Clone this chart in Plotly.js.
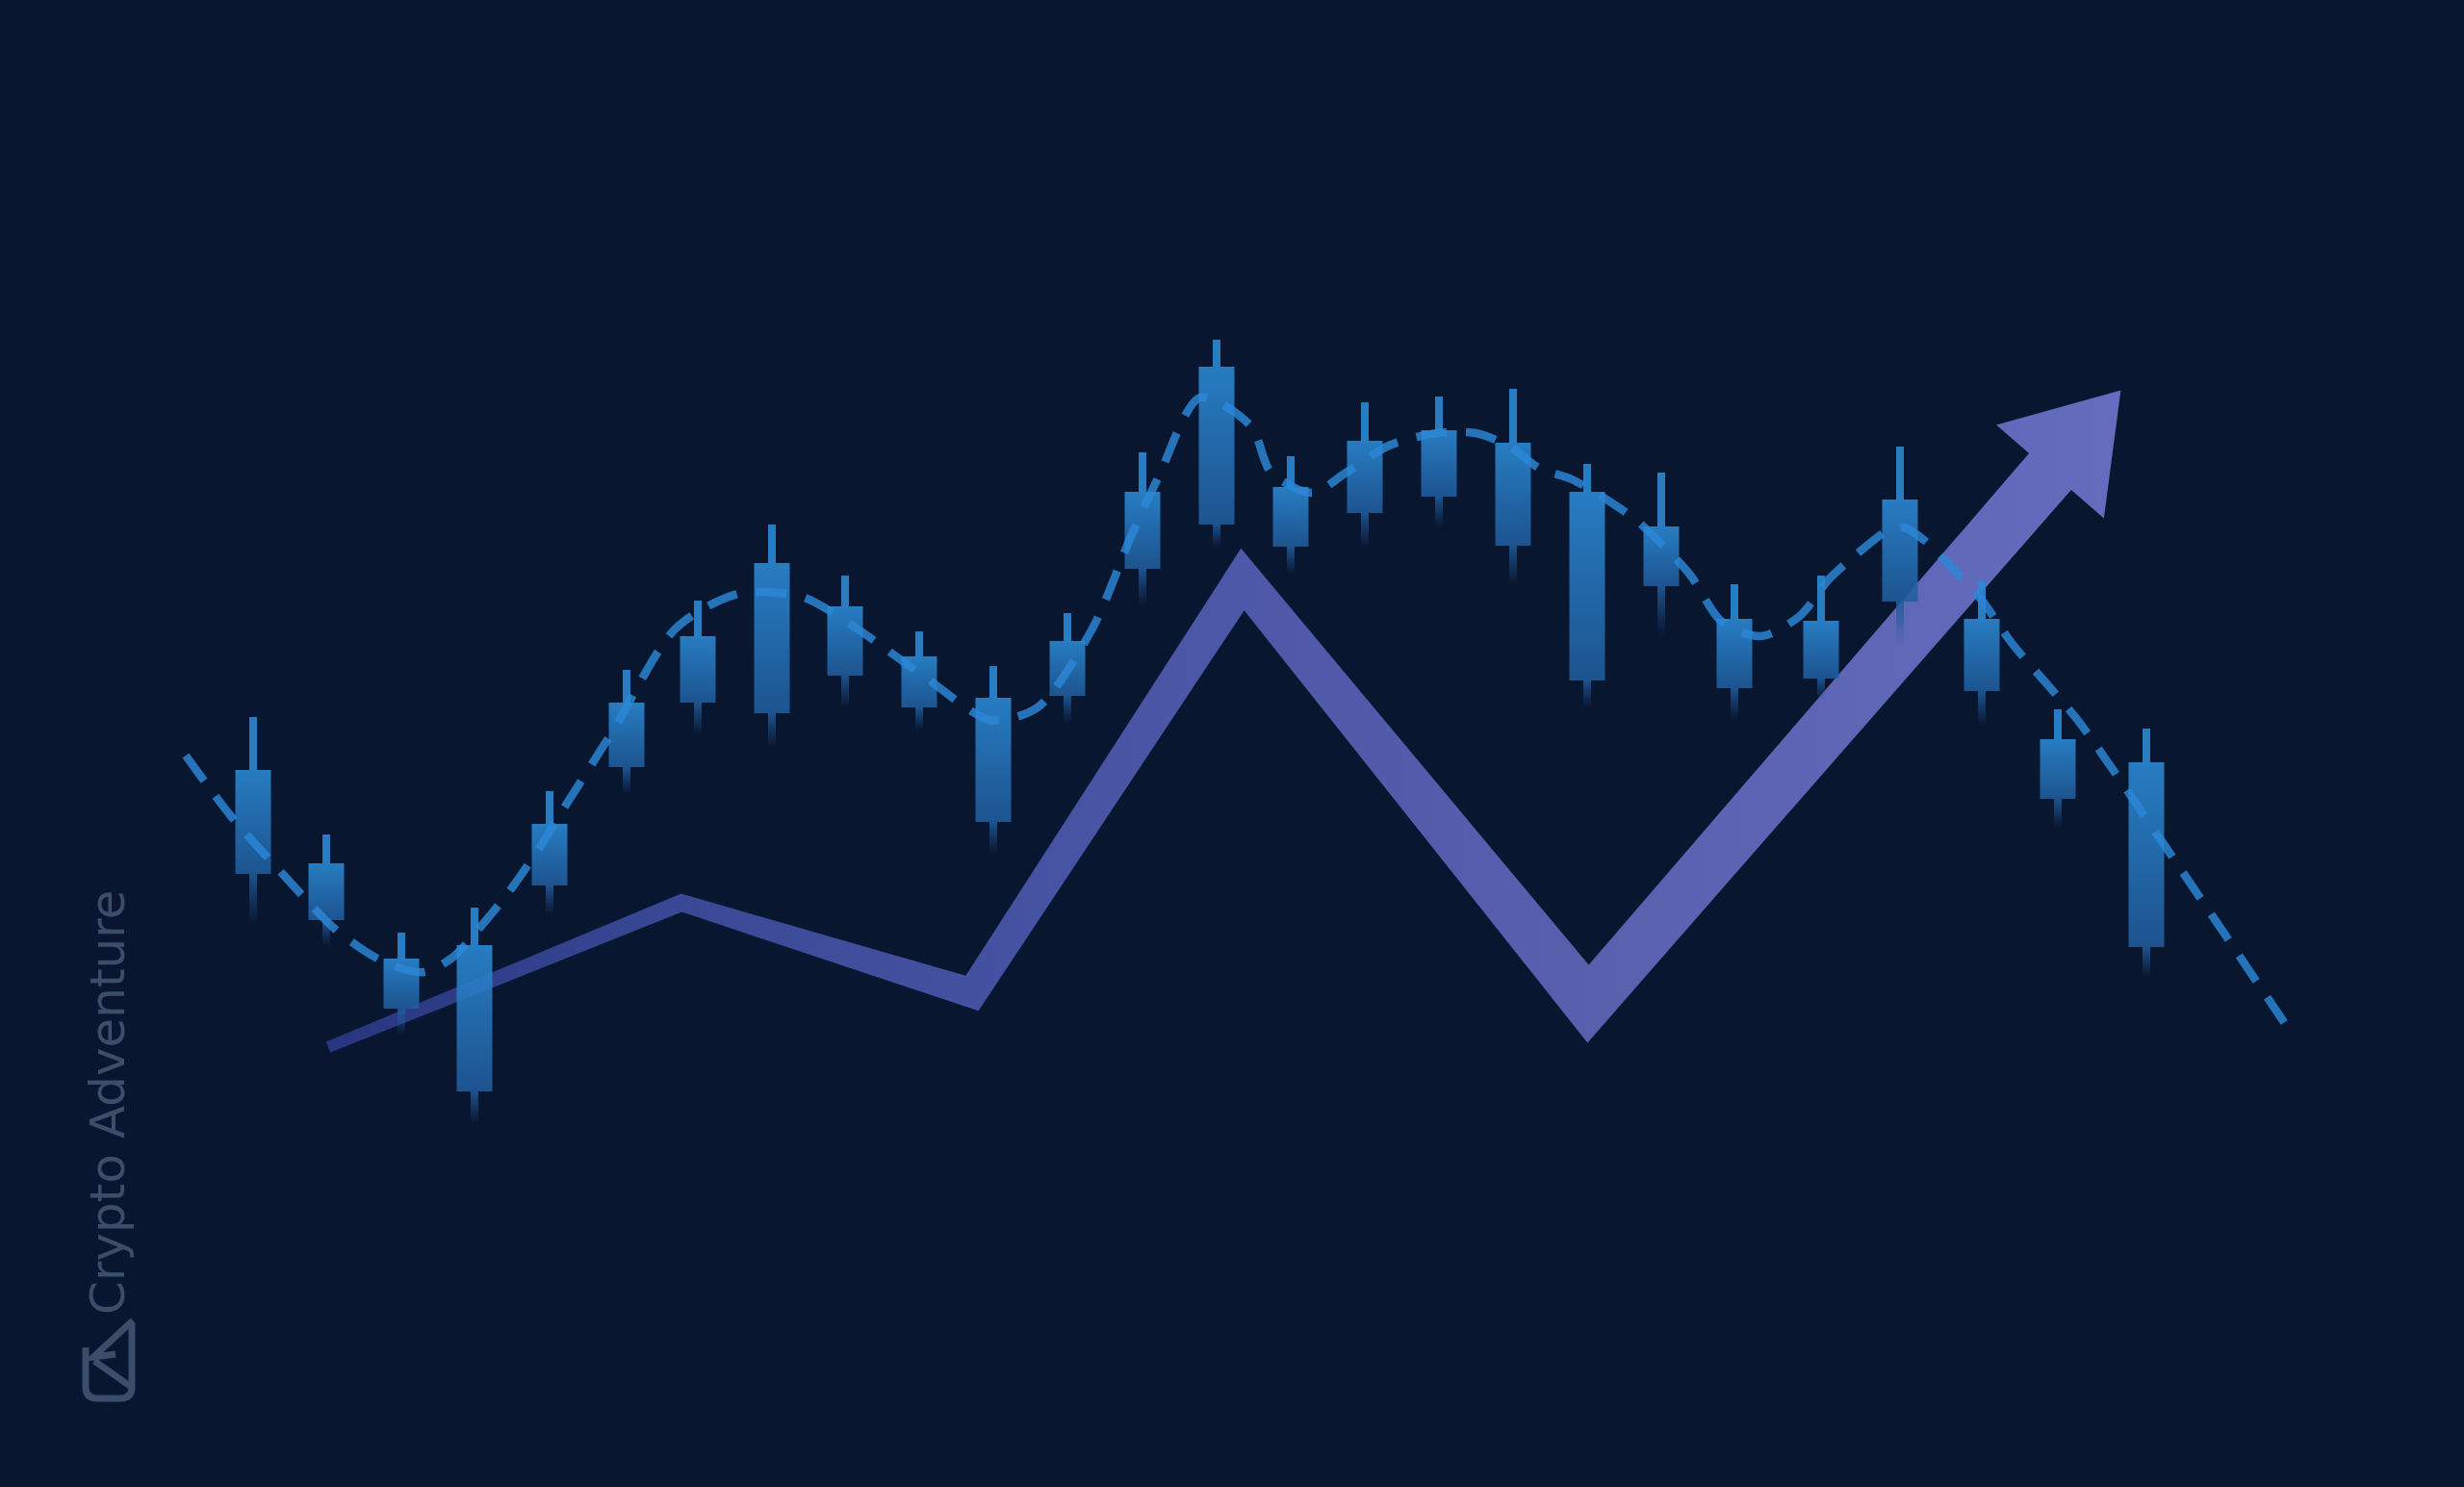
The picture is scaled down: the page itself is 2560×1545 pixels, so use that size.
<!DOCTYPE html>
<html>
<head>
<meta charset="utf-8">
<script src="https://cdn.plot.ly/plotly-3.0.1.min.js"></script>
<style>
html,body{margin:0;padding:0;background:#091630;overflow:hidden}
#chart{width:2560px;height:1545px}
</style>
</head>
<body>
<div id="chart"></div>
<script>
// ---- data (y grows downward on the level axis) ----
const candleTime       = [263, 339, 417, 493, 571, 651, 725, 802, 878, 955, 1032, 1109, 1187, 1264, 1341, 1418, 1495, 1572, 1649, 1726, 1802, 1892, 1974, 2059, 2138, 2230];
const candleWickTop    = [745, 867, 969, 943, 822, 696, 624, 545, 598, 656, 692, 637, 470, 353, 474, 418, 412, 404, 482, 491, 607, 598, 464, 604, 737, 757];
const candleBodyTop    = [800, 897, 996, 982, 856, 730, 661, 585, 630, 682, 725, 666, 511, 381, 506, 458, 447, 460, 511, 547, 643, 645, 519, 643, 768, 792];
const candleBodyBottom = [908, 956, 1048, 1134, 920, 797, 730, 741, 702, 735, 854, 723, 591, 545, 568, 533, 516, 567, 707, 609, 715, 705, 625, 718, 830, 984];
const candleWickBottom = [960, 983, 1075, 1167, 950, 825, 764, 777, 735, 759, 887, 751, 629, 568, 597, 568, 548, 607, 735, 661, 748, 727, 669, 754, 860, 1015];

const avgX = [193, 240, 300, 350, 400, 440, 470, 500, 530, 563, 580, 637, 702, 767, 833, 890, 963, 1029, 1078, 1135, 1176, 1203, 1247, 1300, 1320, 1363, 1400, 1443, 1493, 1533, 1567, 1600, 1633, 1698, 1755, 1788, 1829, 1870, 1900, 1930, 1960, 1978, 2000, 2030, 2060, 2090, 2133, 2160, 2250, 2383];
const avgY = [785, 848, 915, 967, 1000, 1010, 995, 962, 925, 877, 849, 759, 653, 617, 620, 653, 705, 748, 735, 653, 555, 497, 413, 443, 490, 512, 490, 463, 450, 450, 463, 487, 498, 539, 596, 645, 661, 640, 602, 575, 552, 548, 562, 592, 625, 668, 718, 750, 880, 1077];

const trendX     = [341, 708, 1010, 1291, 1650, 2130];
const trendY     = [1088, 938, 1032, 602, 1043, 490];
const trendWidth = [12, 18, 31, 38, 52, 58];

const watermarkText = 'Crypto Adventure';

// ---- style ----
const BG = '#091630';
const BODY_HALF = 18.5, WICK_HALF = 4;
const HEAD_LEN = 112, HEAD_HALF = 74;

const traces = [];

// trend arrow polygon (offset from its centre line)
(function(){
  const n = trendX.length;
  const L = [], R = [];
  function unit(dx, dy){ const l = Math.hypot(dx, dy); return [dx / l, dy / l]; }
  for (let i = 0; i < n; i++) {
    const hw = trendWidth[i] / 2;
    let m, len;
    if (i === 0 || i === n - 1) {
      const d = i === 0 ? unit(trendX[1] - trendX[0], trendY[1] - trendY[0])
                        : unit(trendX[n-1] - trendX[n-2], trendY[n-1] - trendY[n-2]);
      m = [-d[1], d[0]]; len = hw;
    } else {
      const d1 = unit(trendX[i] - trendX[i-1], trendY[i] - trendY[i-1]);
      const d2 = unit(trendX[i+1] - trendX[i], trendY[i+1] - trendY[i]);
      const n1 = [-d1[1], d1[0]], n2 = [-d2[1], d2[0]];
      m = unit(n1[0] + n2[0], n1[1] + n2[1]);
      len = hw / (m[0] * n1[0] + m[1] * n1[1]);
    }
    L.push([trendX[i] + m[0] * len, trendY[i] + m[1] * len]);
    R.push([trendX[i] - m[0] * len, trendY[i] - m[1] * len]);
  }
  const d = unit(trendX[n-1] - trendX[n-2], trendY[n-1] - trendY[n-2]);
  const nv = [-d[1], d[0]];
  const ex = trendX[n-1], ey = trendY[n-1];
  const head = [
    [ex + nv[0] * HEAD_HALF, ey + nv[1] * HEAD_HALF],
    [ex + d[0] * HEAD_LEN, ey + d[1] * HEAD_LEN],
    [ex - nv[0] * HEAD_HALF, ey - nv[1] * HEAD_HALF]
  ];
  const pts = L.concat(head, R.reverse());
  pts.push(pts[0]);
  traces.push({
    type: 'scatter', mode: 'lines', x: pts.map(p => p[0]), y: pts.map(p => p[1]),
    fill: 'toself', line: {width: 0, color: 'rgba(0,0,0,0)'}, hoverinfo: 'skip',
    fillgradient: {type: 'horizontal', start: trendX[0], stop: trendX[n-1] + 70,
      colorscale: [[0, '#28367f'], [0.2, '#3a4996'], [0.36, '#4351a0'], [0.51, '#4e58a8'], [0.7, '#5860ae'], [1, '#646cbe']]}
  });
})();

// candles
for (let i = 0; i < candleTime.length; i++) {
  const x = candleTime[i], wt = candleWickTop[i], bt = candleBodyTop[i], bb = candleBodyBottom[i], wb = candleWickBottom[i];
  // lower wick (fading)
  traces.push({
    type: 'scatter', mode: 'lines', hoverinfo: 'skip', opacity: 0.88,
    x: [x - WICK_HALF, x + WICK_HALF, x + WICK_HALF, x - WICK_HALF, x - WICK_HALF],
    y: [bb, bb, wb, wb, bb],
    fill: 'toself', line: {width: 0, color: 'rgba(0,0,0,0)'},
    fillgradient: {type: 'vertical', start: wb, stop: bb,
      colorscale: [[0, 'rgba(30,86,148,0)'], [1, 'rgba(31,92,156,1)']]}
  });
  // upper wick + body
  traces.push({
    type: 'scatter', mode: 'lines', hoverinfo: 'skip', opacity: 0.88,
    x: [x - WICK_HALF, x + WICK_HALF, x + WICK_HALF, x + BODY_HALF, x + BODY_HALF, x - BODY_HALF, x - BODY_HALF, x - WICK_HALF, x - WICK_HALF],
    y: [wt, wt, bt, bt, bb, bb, bt, bt, wt],
    fill: 'toself', line: {width: 0, color: 'rgba(0,0,0,0)'},
    fillgradient: {type: 'vertical', start: bb, stop: bt,
      colorscale: [[0, '#1f5c9c'], [1, '#2b8ad6']]}
  });
}

// dashed moving-average curve
traces.push({
  type: 'scatter', mode: 'lines', x: avgX, y: avgY, hoverinfo: 'skip', opacity: 0.82,
  line: {shape: 'spline', smoothing: 0.8, width: 8.5, dash: '32px,20px', color: '#2c88d8'}
});

const logoColor = '#3c4d6a';
const layout = {
  width: 2560, height: 1545,
  margin: {l: 0, r: 0, t: 0, b: 0, pad: 0},
  paper_bgcolor: BG, plot_bgcolor: BG,
  showlegend: false, hovermode: false,
  xaxis: {range: [0, 2560], visible: false, fixedrange: true},
  yaxis: {range: [1545, 0], visible: false, fixedrange: true},
  annotations: [{
    text: watermarkText, x: 112, y: 1145, xref: 'x', yref: 'y',
    xanchor: 'center', yanchor: 'middle', textangle: -90, showarrow: false,
    font: {family: 'DejaVu Sans', size: 50, color: logoColor}
  }],
  shapes: [
    {type: 'path', xref: 'x', yref: 'y', path: 'M 89,1400 L 89,1441 Q 89,1453 101,1453 L 125,1453 Q 137,1453 137,1441 L 137,1375',
     line: {color: logoColor, width: 7}},
    {type: 'path', xref: 'x', yref: 'y', path: 'M 138,1372 L 97,1410 L 120,1407 M 98,1414 L 135,1440',
     line: {color: logoColor, width: 7}}
  ]
};

Plotly.newPlot('chart', traces, layout, {staticPlot: true, displayModeBar: false});
</script>
</body>
</html>
